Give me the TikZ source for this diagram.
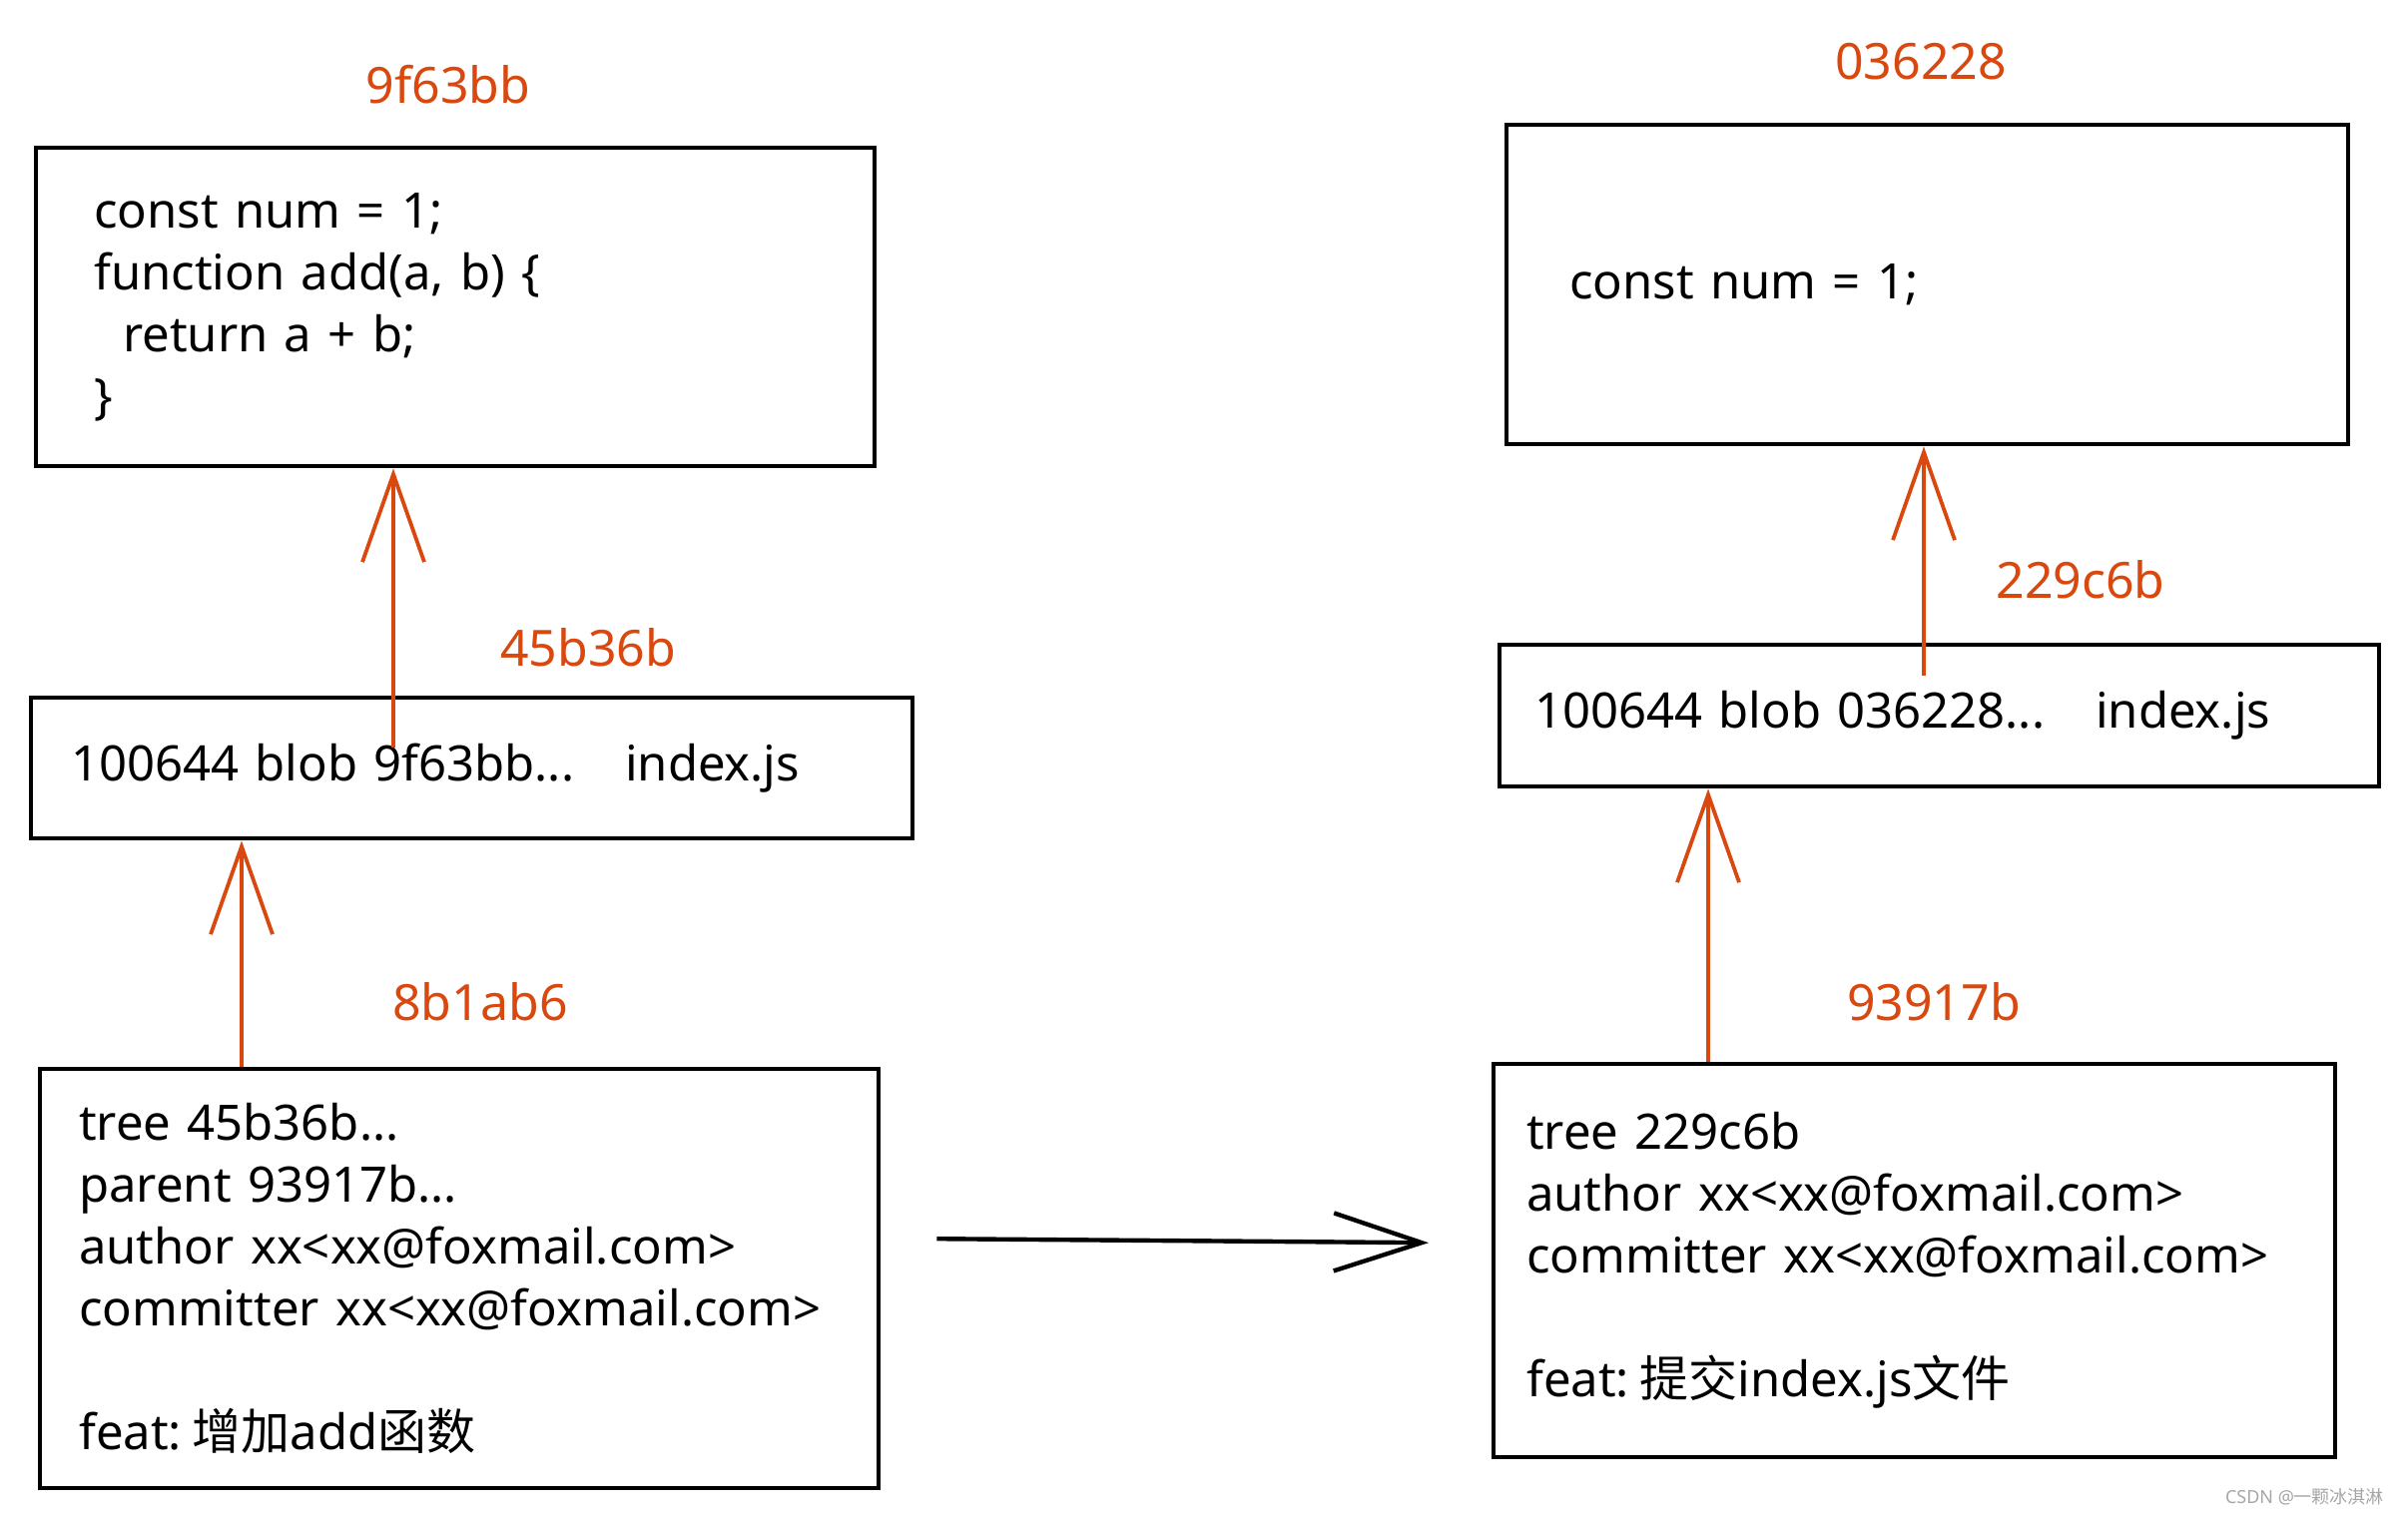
\documentclass[tikz,border=0pt]{standalone}
\usepackage{fontspec}
\setmainfont{Noto Sans}
\newfontfamily\cjk{Noto Sans CJK SC}
\usetikzlibrary{arrows.meta}
\definecolor{hashred}{RGB}{217,72,15}

\tikzset{
  box/.style={draw, line width=2.2pt, rectangle, align=left, anchor=north west,
    inner ysep=0pt, font=\fontsize{24.5}{31}\selectfont},
  hash/.style={text=hashred, font=\fontsize{25}{31}\selectfont},
  link/.style={draw=hashred, line width=1.9pt, -{Straight Barb[length=44pt,width=31pt]}},
  flow/.style={line width=2.2pt, -{Straight Barb[length=44pt,width=29pt]}}
}

\begin{document}
\begin{tikzpicture}[x=0.5pt,y=-0.5pt]
  \useasboundingbox (0,0) rectangle (2412,1520);
  % old commit
  \node[box, text width=362pt, inner xsep=29pt, minimum height=159.5pt] (blobA) at (34,146)
    {const num = 1;\\function add(a, b) \{\\\hspace{14.5pt}return a + b;\\\}};
  \node[box, text width=401.5pt, inner xsep=20pt, minimum height=70.5pt] (treeA) at (29,697)
    {\makebox[277.5pt][l]{100644 blob 9f63bb...}index.js};
  \node[box, text width=381pt, inner xsep=19.5pt, minimum height=210pt] (commitA) at (38,1069)
    {tree 45b36b...\\parent 93917b...\\author xx<xx@foxmail.com>\\committer xx<xx@foxmail.com>\\[31pt]feat:\hspace{0.22em}{\cjk 增加}add{\cjk 函数}};
  % new commit
  \node[box, text width=358.5pt, inner xsep=31.5pt, minimum height=160pt] (blobB) at (1507,123)
    {const num = 1;};
  \node[box, text width=405.5pt, inner xsep=17.5pt, minimum height=71pt] (treeB) at (1500,644)
    {\makebox[281pt][l]{100644 blob 036228...}index.js};
  \node[box, text width=388.5pt, inner xsep=16.5pt, minimum height=197pt] (commitB) at (1494,1064)
    {tree 229c6b\\author xx<xx@foxmail.com>\\committer xx<xx@foxmail.com>\\[31pt]feat:\hspace{0.22em}{\cjk 提交}index.js{\cjk 文件}};

  % hashes
  \node[hash] (h9f) at (449,85) {9f63bb};
  \node[hash] (h45b) at (589,649) {45b36b};
  \node[hash] (h8b1) at (481,1004) {8b1ab6};
  \node[hash] (h036) at (1924,62) {036228};
  \node[hash] (h229) at (2084,581) {229c6b};
  \node[hash] (h939) at (1937,1004) {93917b};

  % pointers
  \coordinate (tA) at (394,749);
  \coordinate (cA) at ([xshift=102pt]commitA.north west);
  \coordinate (tB) at (1927,677);
  \coordinate (cB) at ([xshift=108.5pt]commitB.north west);
  \draw[link] (tA) -- (tA |- blobA.south);
  \draw[link] (cA) -- (cA |- treeA.south);
  \draw[link] (tB) -- (tB |- blobB.south);
  \draw[link] (cB) -- (cB |- treeB.south);
  \draw[flow] ([xshift=28pt,yshift=20pt]commitA.east) -- ([xshift=-31.5pt,yshift=9pt]commitB.west);

  \node[text=gray!70, font=\fontsize{9}{11}\selectfont, anchor=east] (mark) at (2395,1500) {CSDN @{\cjk 一颗冰淇淋}};
\end{tikzpicture}
\end{document}
